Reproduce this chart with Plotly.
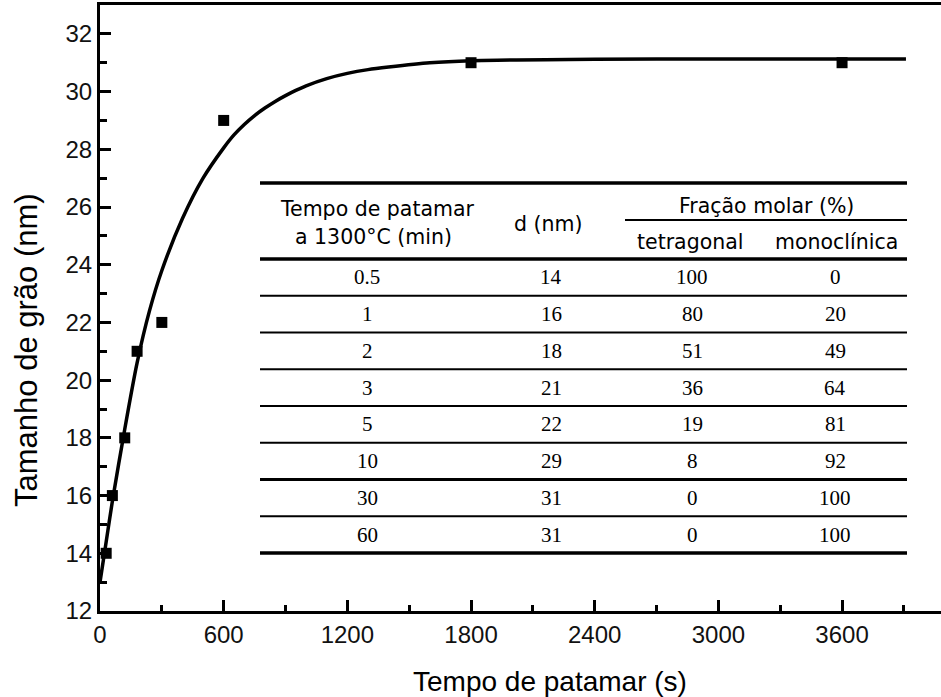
import plotly.graph_objects as go

# Measured grain size vs. dwell time
tempo_s = [30, 60, 120, 180, 300, 600, 1800, 3600]
tamanho_nm = [14, 16, 18, 21, 22, 29, 31, 31]

# Fitted growth curve
curva_x = [0, 30, 60, 120, 180, 240, 300, 400, 500, 600, 650, 700, 750, 800,
           850, 900, 950, 1000, 1100, 1200, 1300, 1400, 1600, 1800, 2400,
           3000, 3600, 3910]
curva_y = [13.0, 14.4, 15.8, 18.3, 20.6, 22.4, 23.8, 25.6, 27.0, 28.05, 28.5,
           28.86, 29.17, 29.43, 29.66, 29.86, 30.04, 30.2, 30.45, 30.63, 30.76,
           30.85, 31.0, 31.07, 31.12, 31.13, 31.13, 31.13]

# Inset table contents
tab_tempo = ["0.5", "1", "2", "3", "5", "10", "30", "60"]
tab_d = ["14", "16", "18", "21", "22", "29", "31", "31"]
tab_tetra = ["100", "80", "51", "36", "19", "8", "0", "0"]
tab_mono = ["0", "20", "49", "64", "81", "92", "100", "100"]

x_ticks = [0, 600, 1200, 1800, 2400, 3000, 3600]
y_ticks = [12, 14, 16, 18, 20, 22, 24, 26, 28, 30, 32]

W, H = 941, 697
ML, MR, MT, MB = 100, 0, 5, 86
PW, PH = W - ML - MR, H - MT - MB

SANS = "Liberation Sans, Arial, sans-serif"
WIDE = "DejaVu Sans, Verdana, sans-serif"
SERIF = "Liberation Serif, Times New Roman, serif"


def px(x):
    return (x - ML) / PW


def py(y):
    return (H - MB - y) / PH


fig = go.Figure()

fig.add_trace(go.Scatter(
    x=curva_x, y=curva_y, mode="lines",
    line=dict(color="black", width=3.5, shape="spline", smoothing=0.8),
    hoverinfo="skip", showlegend=False,
))
fig.add_trace(go.Scatter(
    x=tempo_s, y=tamanho_nm, mode="markers",
    marker=dict(symbol="square", size=11, color="black"),
    showlegend=False,
))

shapes = []
annotations = []

# table rules
x0t, x1t = 260, 907
top_y, head_y, bot_y = 183, 259, 553
row_h = (bot_y - head_y) / len(tab_tempo)


def hline(xa, xb, y, w):
    shapes.append(dict(type="line", xref="paper", yref="paper",
                       x0=px(xa), x1=px(xb), y0=py(y), y1=py(y),
                       line=dict(color="black", width=w)))


hline(x0t, x1t, top_y, 3.5)
hline(x0t, x1t, head_y, 3.5)
hline(625, x1t, 220, 2)
for i in range(1, len(tab_tempo)):
    hline(x0t, x1t, head_y + i * row_h, 3 if i == 6 else 2.2)
hline(x0t, x1t, bot_y, 3.5)


def text(s, x, y, font, size, angle=0):
    annotations.append(dict(text=s, x=px(x), y=py(y), xref="paper", yref="paper",
                            showarrow=False, xanchor="center", yanchor="middle",
                            textangle=angle,
                            font=dict(family=font, size=size, color="black")))


# header
hdr = dict(font=WIDE, size=20.5)
text("Tempo de patamar", 377, 209, **hdr)
text("a 1300°C (min)", 373, 237, **hdr)
text("d (nm)", 548, 224, **hdr)
text("Fração molar (%)", 766, 206, **hdr)
text("tetragonal", 690, 242, **hdr)
text("monoclínica", 836, 242, **hdr)

col_x = [367, 551, 692, 835]
for i, row in enumerate(zip(tab_tempo, tab_d, tab_tetra, tab_mono)):
    yc = head_y + (i + 0.5) * row_h
    for cx, val in zip(col_x, row):
        text(val, cx, yc, SERIF, 21)

# axis titles
text("Tempo de patamar (s)", 550, 681, SANS, 28)
text("Tamanho de grão (nm)", 26, 350, SANS, 31, angle=-90)

axis_common = dict(
    showline=True, linecolor="black", linewidth=3,
    ticks="inside", tickcolor="black", tickwidth=3, ticklen=11,
    showgrid=False, zeroline=False,
    tickfont=dict(family=SANS, size=24, color="#111111"),
)

fig.update_layout(
    width=W, height=H,
    margin=dict(l=ML, r=MR, t=MT, b=MB),
    paper_bgcolor="white", plot_bgcolor="white",
    shapes=shapes, annotations=annotations,
    xaxis=dict(
        range=[0, 4080], tickvals=x_ticks, mirror=True,
        minor=dict(dtick=300, tick0=0, ticks="inside", ticklen=6,
                   tickwidth=3, tickcolor="black"),
        **axis_common,
    ),
    yaxis=dict(
        range=[12, 33], tickvals=y_ticks,
        minor=dict(dtick=1, tick0=0, ticks="inside", ticklen=7,
                   tickwidth=3, tickcolor="black"),
        **axis_common,
    ),
)

fig.write_html("out.html")
